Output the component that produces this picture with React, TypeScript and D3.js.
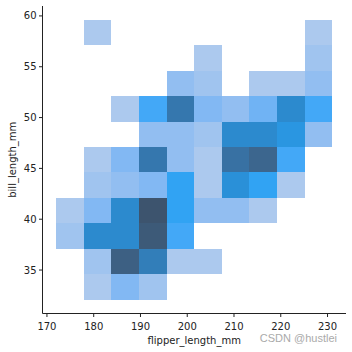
import * as d3 from "d3";

// bin edges (numpy "auto" bins, 10 x 11)
const flipperBins = [172, 177.9, 183.8, 189.7, 195.6, 201.5, 207.4, 213.3, 219.2, 225.1, 231];
const billBins = [32.1, 34.6, 37.1, 39.6, 42.1, 44.6, 47.1, 49.6, 52.1, 54.6, 57.1, 59.6];

// counts per cell, rows from top bill bin (57.1-59.6) down to bottom (32.1-34.6)
const counts = [
  [0, 1, 0, 0, 0, 0, 0, 0, 0, 1],
  [0, 0, 0, 0, 0, 1, 0, 0, 0, 2],
  [0, 0, 0, 0, 3, 2, 0, 1, 1, 3],
  [0, 0, 1, 7, 15, 4, 3, 5, 12, 7],
  [0, 0, 0, 3, 3, 2, 12, 12, 10, 3],
  [0, 1, 4, 15, 3, 1, 16, 18, 7, 0],
  [0, 2, 3, 4, 8, 1, 11, 8, 1, 0],
  [1, 4, 12, 21, 8, 3, 3, 1, 0, 0],
  [2, 12, 12, 20, 7, 0, 0, 0, 0, 0],
  [0, 2, 19, 14, 1, 1, 0, 0, 0, 0],
  [0, 1, 4, 2, 0, 0, 0, 0, 0, 0],
];

const flipperTicks = [170, 180, 190, 200, 210, 220, 230];
const billTicks = [35, 40, 45, 50, 55, 60];

// --- husl helpers (same maths seaborn uses for its sequential cmap) ---
const M = [[3.2406, -1.5372, -0.4986], [-0.9689, 1.8758, 0.0415], [0.0557, -0.204, 1.057]];
const M_INV = [[0.4124, 0.3576, 0.1805], [0.2126, 0.7152, 0.0722], [0.0193, 0.1192, 0.9505]];
const REF_U = 0.19784, REF_V = 0.46834, LAB_E = 0.008856, LAB_K = 903.3;

function maxChroma(L: number, H: number) {
  const hrad = (H / 180) * Math.PI;
  const sinH = Math.sin(hrad), cosH = Math.cos(hrad);
  const sub1 = Math.pow(L + 16, 3) / 1560896;
  const sub2 = sub1 > LAB_E ? sub1 : L / LAB_K;
  let result = Infinity;
  for (const [m1, m2, m3] of M) {
    const top = (0.99915 * m1 + 1.05122 * m2 + 1.1446 * m3) * sub2;
    const rbottom = 0.8633 * m3 - 0.17266 * m2;
    const lbottom = 0.12949 * m3 - 0.38848 * m1;
    const bottom = (rbottom * sinH + lbottom * cosH) * sub2;
    for (const t of [0, 1]) {
      const C = (L * (top - 1.05122 * t)) / (bottom + 0.17266 * sinH * t);
      if (C > 0 && C < result) result = C;
    }
  }
  return result;
}

function huslToRgb(H: number, S: number, L: number) {
  let C = 0;
  if (L > 99.9999999) L = 100;
  else if (L >= 1e-8) C = (maxChroma(L, H) / 100) * S;
  const hrad = (H / 180) * Math.PI;
  const U = C * Math.cos(hrad), V = C * Math.sin(hrad);
  if (L === 0) return [0, 0, 0];
  const t = (L + 16) / 116;
  const varY = Math.pow(t, 3) > LAB_E ? Math.pow(t, 3) : (116 * t - 16) / LAB_K;
  const varU = U / (13 * L) + REF_U;
  const varV = V / (13 * L) + REF_V;
  const Y = varY;
  const X = 0 - (9 * Y * varU) / ((varU - 4) * varV - varU * varV);
  const Z = (9 * Y - 15 * varV * Y - varV * X) / (3 * varV);
  return M.map((row) => {
    const c = row[0] * X + row[1] * Y + row[2] * Z;
    const v = c <= 0.0031308 ? 12.92 * c : 1.055 * Math.pow(c, 1 / 2.4) - 0.055;
    return Math.min(1, Math.max(0, v));
  });
}

function rgbToHusl(r: number, g: number, b: number) {
  const lin = [r, g, b].map((c) => (c > 0.04045 ? Math.pow((c + 0.055) / 1.055, 2.4) : c / 12.92));
  const [X, Y, Z] = M_INV.map((row) => row[0] * lin[0] + row[1] * lin[1] + row[2] * lin[2]);
  const den = X + 15 * Y + 3 * Z;
  const varU = (4 * X) / den, varV = (9 * Y) / den;
  const L = 116 * (Y > LAB_E ? Math.cbrt(Y) : 7.787 * Y + 16 / 116) - 16;
  const U = 13 * L * (varU - REF_U), V = 13 * L * (varV - REF_V);
  const C = Math.sqrt(U * U + V * V);
  let H = (Math.atan2(V, U) * 180) / Math.PI;
  if (H < 0) H += 360;
  return [H, (C / maxChroma(L, H)) * 100, L];
}

function cmapFromColor(hex: string) {
  const c = d3.rgb(hex);
  const [h, s] = rgbToHusl(c.r / 255, c.g / 255, c.b / 255);
  const n = 256;
  const total = Math.floor(1.15 * 256);
  const colors: string[] = [];
  for (let i = 0; i < n; i++) {
    const xx = -1 + (2 * i) / (total - 1);
    const l = 35 + (45 * i) / (n - 1);
    const [r, g, b] = huslToRgb(h, s * Math.cos(xx), l);
    colors.push(d3.rgb(r * 255, g * 255, b * 255).formatHex());
  }
  return colors.reverse();
}

const cmap = cmapFromColor("#1f77b4");

export default function App() {
  const width = 352;
  const height = 352;
  const left = 42.5, right = 346, top = 6, bottom = 313.5;

  const x = d3.scaleLinear().domain([169.05, 233.95]).range([left, right]);
  const y = d3.scaleLinear().domain([30.725, 60.975]).range([bottom, top]);

  const flat = counts.flat().filter((c) => c > 0);
  const vmin = d3.min(flat)!;
  const vmax = d3.max(flat)!;
  const color = (c: number) => {
    const t = (c - vmin) / (vmax - vmin);
    return cmap[Math.min(255, Math.max(0, Math.floor(t * 256)))];
  };

  const nRows = billBins.length - 1;
  const cells: { x0: number; x1: number; y0: number; y1: number; c: number }[] = [];
  counts.forEach((row, ri) => {
    const bi = nRows - 1 - ri;
    row.forEach((c, ci) => {
      if (c > 0) cells.push({ x0: flipperBins[ci], x1: flipperBins[ci + 1], y0: billBins[bi], y1: billBins[bi + 1], c });
    });
  });

  const font = "DejaVu Sans, sans-serif";

  return (
    <svg width={width} height={height} style={{ position: "absolute", left: 0, top: 0, background: "#fff" }}>
      <g shapeRendering="crispEdges">
        {cells.map((d, i) => (
          <rect
            key={i}
            x={x(d.x0)}
            y={y(d.y1)}
            width={x(d.x1) - x(d.x0)}
            height={y(d.y0) - y(d.y1)}
            fill={color(d.c)}
          />
        ))}
      </g>
      <g stroke="#222" strokeWidth={1}>
        <line x1={left} x2={left} y1={top} y2={bottom} />
        <line x1={left} x2={right} y1={bottom} y2={bottom} />
        {flipperTicks.map((t) => (
          <line key={t} x1={x(t)} x2={x(t)} y1={bottom} y2={bottom + 3.5} />
        ))}
        {billTicks.map((t) => (
          <line key={t} x1={left - 3.5} x2={left} y1={y(t)} y2={y(t)} />
        ))}
      </g>
      <g fontFamily={font} fontSize={10} fill="#222">
        {flipperTicks.map((t) => (
          <text key={t} x={x(t)} y={bottom + 16} textAnchor="middle">
            {t}
          </text>
        ))}
        {billTicks.map((t) => (
          <text key={t} x={left - 6} y={y(t)} textAnchor="end" dominantBaseline="central">
            {t}
          </text>
        ))}
        <text x={(left + right) / 2} y={343.5} textAnchor="middle">
          flipper_length_mm
        </text>
        <text transform={`translate(16,${(top + bottom) / 2}) rotate(-90)`} textAnchor="middle">
          bill_length_mm
        </text>
      </g>
      <text x={337} y={341.5} textAnchor="end" fontFamily="Liberation Sans, Arial, sans-serif" fontSize={11} fill="#aaa">
        CSDN @hustlei
      </text>
    </svg>
  );
}
